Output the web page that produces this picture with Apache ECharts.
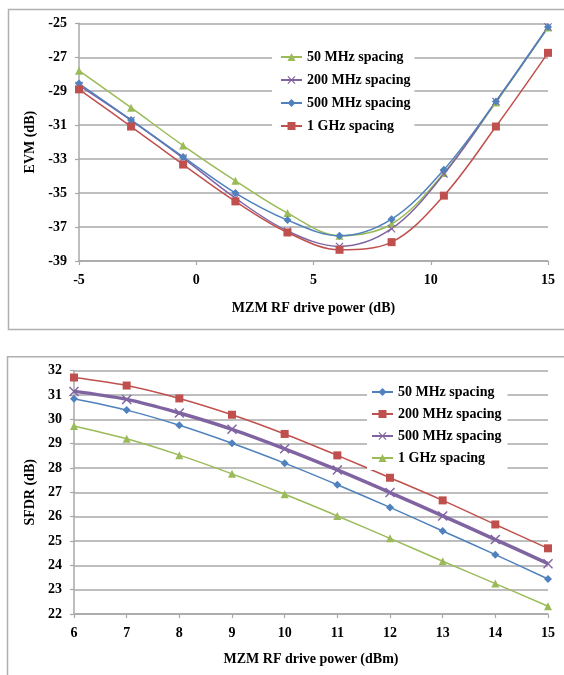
<!DOCTYPE html>
<html><head><meta charset="utf-8">
<script src="https://cdn.jsdelivr.net/npm/echarts@6/dist/echarts.min.js"></script>
<style>
html,body{margin:0;padding:0;background:#fff;}
#c1{position:absolute;left:0;top:0;width:564px;height:340px;}
#c2{position:absolute;left:0;top:340px;width:564px;height:335px;}
</style>
</head><body>
<div id="c1"></div><div id="c2"></div>
<script>
// ---- Top chart: EVM vs MZM RF drive power (dB)
const evmX = [-5, -2.78, -0.56, 1.67, 3.89, 6.11, 8.33, 10.56, 12.78, 15];
const evm50 = [-27.79, -29.97, -32.2, -34.28, -36.18, -37.51, -36.82, -33.82, -29.66, -25.25];
const evm200 = [-28.66, -30.72, -32.94, -35.3, -37.23, -38.14, -37.1, -33.88, -29.6, -25.22];
const evm500 = [-28.55, -30.69, -32.87, -35.0, -36.59, -37.52, -36.54, -33.62, -29.6, -25.22];
const evm1g = [-28.89, -31.08, -33.32, -35.49, -37.32, -38.34, -37.89, -35.15, -31.08, -26.74];
const evmNames = ['50 MHz spacing', '200 MHz spacing', '500 MHz spacing', '1 GHz spacing'];

// ---- Bottom chart: SFDR vs MZM RF drive power (dBm)
const sfdrX = [6, 7, 8, 9, 10, 11, 12, 13, 14, 15];
const sfdr50 = [30.85, 30.38, 29.76, 29.02, 28.2, 27.31, 26.38, 25.41, 24.44, 23.44];
const sfdr200 = [31.72, 31.39, 30.86, 30.19, 29.4, 28.52, 27.6, 26.67, 25.68, 24.7];
const sfdr500 = [31.15, 30.82, 30.26, 29.59, 28.79, 27.92, 26.99, 26.03, 25.06, 24.07];
const sfdr1g = [29.73, 29.2, 28.53, 27.76, 26.92, 26.03, 25.11, 24.17, 23.25, 22.32];
const sfdrNames = ['50 MHz spacing', '200 MHz spacing', '500 MHz spacing', '1 GHz spacing'];

const BLUE = '#4F81BD', RED = '#C0504D', GREEN = '#9BBB59', PURPLE = '#8064A2';
const FONT = "'Liberation Serif', 'Times New Roman', serif";
const GRIDC = '#a8a8a8';
const CROSS = 'path://M0,1 L1,0 L5,4 L9,0 L10,1 L6,5 L10,9 L9,10 L5,6 L1,10 L0,9 L4,5 Z';

function pairs(xs, ys) { return xs.map((x, i) => [x, ys[i]]); }

function mkSeries(name, xs, ys, color, symbol, size, width) {
  return {
    name: name, type: 'line', data: pairs(xs, ys), smooth: 0.35,
    symbol: symbol, symbolSize: size, showSymbol: true,
    lineStyle: { color: color, width: width },
    itemStyle: { color: color },
    emphasis: { disabled: true }
  };
}

const labelStyle = { fontFamily: FONT, fontWeight: 'bold', fontSize: 14, color: '#000' };

function axisCommon() {
  return {
    axisLine: { show: true, onZero: false, lineStyle: { color: GRIDC, width: 1.5 } },
    axisTick: { show: true, length: 4, lineStyle: { color: GRIDC, width: 1.2 } },
    splitLine: { show: true, lineStyle: { color: GRIDC, width: 1.5 } },
    nameTextStyle: labelStyle
  };
}

// Top chart
const c1 = echarts.init(document.getElementById('c1'));
c1.setOption({
  animation: false,
  graphic: [{ type: 'rect', shape: { x: 8.5, y: 9.5, width: 600, height: 320 },
    style: { fill: 'none', stroke: '#b0b0b0', lineWidth: 1.5 }, silent: true, z: -1 }],
  grid: { left: 79, right: 16, top: 23.3, bottom: 79 },
  legend: {
    orient: 'vertical', left: 272, top: 45, padding: [5, 4, 5, 8],
    backgroundColor: '#fff', itemWidth: 21, itemHeight: 10, itemGap: 9,
    textStyle: labelStyle, data: evmNames, selectedMode: false
  },
  xAxis: Object.assign(axisCommon(), {
    type: 'value', min: -5, max: 15, interval: 5,
    splitLine: { show: false },
    axisLabel: Object.assign({ margin: 12 }, labelStyle),
    name: 'MZM RF drive power (dB)', nameLocation: 'middle', nameGap: 40
  }),
  yAxis: Object.assign(axisCommon(), {
    type: 'value', min: -39, max: -25, interval: 2,
    axisLabel: Object.assign({ margin: 12 }, labelStyle),
    name: 'EVM (dB)', nameLocation: 'middle', nameGap: 39
  }),
  series: [
    mkSeries(evmNames[0], evmX, evm50, GREEN, 'triangle', 8, 1.5),
    mkSeries(evmNames[1], evmX, evm200, PURPLE, CROSS, 8, 1.5),
    mkSeries(evmNames[2], evmX, evm500, BLUE, 'diamond', 8, 1.5),
    mkSeries(evmNames[3], evmX, evm1g, RED, 'rect', 8, 1.5)
  ]
});

// Bottom chart
const c2 = echarts.init(document.getElementById('c2'));
c2.setOption({
  animation: false,
  graphic: [{ type: 'rect', shape: { x: 7.5, y: 16.7, width: 600, height: 400 },
    style: { fill: 'none', stroke: '#b0b0b0', lineWidth: 1.5 }, silent: true, z: -1 }],
  grid: { left: 74, right: 16, top: 30.7, bottom: 61 },
  legend: {
    orient: 'vertical', left: 367, top: 40, padding: [5, 6, 5, 4],
    backgroundColor: '#fff', itemWidth: 21, itemHeight: 10, itemGap: 8,
    textStyle: labelStyle, data: sfdrNames, selectedMode: false
  },
  xAxis: Object.assign(axisCommon(), {
    type: 'value', min: 6, max: 15, interval: 1,
    splitLine: { show: false },
    axisLabel: Object.assign({ margin: 12 }, labelStyle),
    name: 'MZM RF drive power (dBm)', nameLocation: 'middle', nameGap: 38
  }),
  yAxis: Object.assign(axisCommon(), {
    type: 'value', min: 22, max: 32, interval: 1,
    axisLabel: Object.assign({ margin: 12 }, labelStyle),
    name: 'SFDR (dB)', nameLocation: 'middle', nameGap: 31
  }),
  series: [
    mkSeries(sfdrNames[0], sfdrX, sfdr50, BLUE, 'diamond', 8, 1.5),
    mkSeries(sfdrNames[1], sfdrX, sfdr200, RED, 'rect', 8, 1.5),
    mkSeries(sfdrNames[2], sfdrX, sfdr500, PURPLE, CROSS, 10, 3.5),
    mkSeries(sfdrNames[3], sfdrX, sfdr1g, GREEN, 'triangle', 8, 1.5)
  ]
});
</script>
</body></html>
